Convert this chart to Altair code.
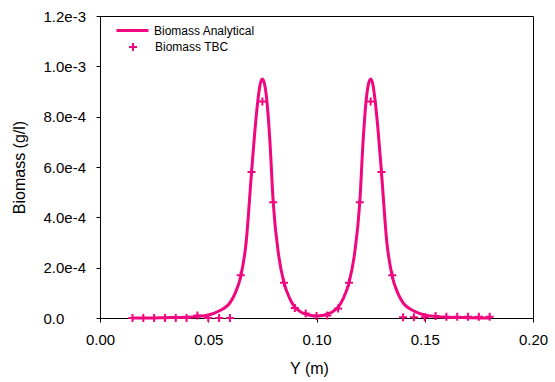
import altair as alt
import pandas as pd

MAGENTA = "#F0067F"
FONT = "Liberation Sans"

# Analytical curve (Y in m, biomass in 1e-4 g/l)
curve_y = [0.015, 0.02, 0.025, 0.03, 0.035, 0.04, 0.045, 0.05, 0.055, 0.06,
           0.0625, 0.065, 0.0675, 0.07, 0.0715, 0.073, 0.074, 0.075, 0.076, 0.077,
           0.0785, 0.08, 0.0825, 0.085, 0.0875, 0.09, 0.0925, 0.095, 0.0975, 0.1,
           0.1025, 0.105, 0.1075, 0.11, 0.1125, 0.115, 0.1175, 0.12, 0.1215, 0.123,
           0.124, 0.125, 0.126, 0.127, 0.1285, 0.13, 0.1325, 0.135, 0.1375, 0.14,
           0.145, 0.15, 0.155, 0.16, 0.165, 0.17, 0.175, 0.18]
curve_b = [0.0, 0.0, 0.0, 0.01, 0.02, 0.03, 0.06, 0.12, 0.28, 0.6,
           1.0, 1.65, 3.0, 5.8, 7.4, 8.7, 9.3, 9.5, 9.3, 8.7,
           7.0, 4.6, 2.5, 1.4, 0.8, 0.43, 0.25, 0.16, 0.1, 0.08,
           0.1, 0.16, 0.25, 0.43, 0.8, 1.4, 2.5, 4.6, 7.0, 8.7,
           9.3, 9.5, 9.3, 8.7, 7.4, 5.8, 3.0, 1.65, 1.0, 0.6,
           0.28, 0.12, 0.06, 0.03, 0.02, 0.01, 0.0, 0.0]

# TBC points
tbc_y = [0.015, 0.02, 0.025, 0.03, 0.035, 0.04, 0.045, 0.05, 0.055, 0.06,
         0.065, 0.07, 0.075, 0.08, 0.085, 0.09, 0.095, 0.1, 0.105, 0.11,
         0.115, 0.12, 0.125, 0.13, 0.135, 0.14, 0.145, 0.15, 0.155, 0.16,
         0.165, 0.17, 0.175, 0.18]
tbc_b = [0.0, 0.0, 0.0, 0.0, 0.0, 0.0, 0.1, 0.0, 0.0, 0.0,
         1.7, 5.8, 8.6, 4.6, 1.4, 0.4, 0.18, 0.08, 0.1, 0.38,
         1.4, 4.6, 8.6, 5.8, 1.7, 0.03, 0.03, 0.03, 0.08, 0.05,
         0.05, 0.05, 0.05, 0.05]

y_ticks = [0, 0.0002, 0.0004, 0.0006, 0.0008, 0.001, 0.0012]
x_ticks = [0.0, 0.05, 0.10, 0.15, 0.20]

curve_df = pd.DataFrame({"Y": curve_y, "B": [v * 1e-4 for v in curve_b],
                         "s": "Biomass Analytical"})
tbc_df = pd.DataFrame({"Y": tbc_y, "B": [v * 1e-4 for v in tbc_b],
                       "t": "Biomass TBC"})

label_expr = ("datum.value == 0 ? '0.0' : format(datum.value / pow(10, floor(log(datum.value)/LN10 + 1e-9)), '.1f')"
              " + 'e' + floor(log(datum.value)/LN10 + 1e-9)")

x_enc = alt.X("Y:Q", scale=alt.Scale(domain=[0, 0.2], nice=False),
              axis=alt.Axis(title="Y (m)", values=x_ticks, format=".2f",
                            labelPadding=10, labelFlush=False, titleX=209, titleY=50,
                            titleBaseline="middle"))
y_enc = alt.Y("B:Q", scale=alt.Scale(domain=[0, 0.0012], nice=False),
              axis=alt.Axis(title="Biomass (g/l)", values=y_ticks,
                            labelExpr=label_expr, labelAlign="left", labelFlush=False,
                            labelPadding=53, titleX=-81, titleY=151,
                            titleBaseline="middle"))

cross = "M-1,0H1M0,-1V1"

line = alt.Chart(curve_df).mark_line(strokeWidth=3, interpolate="monotone").encode(
    x=x_enc, y=y_enc,
    color=alt.Color("s:N", scale=alt.Scale(domain=["Biomass Analytical"], range=[MAGENTA]),
                    legend=alt.Legend(orient="none", legendX=15, legendY=-3, title=None,
                                      symbolType="stroke", symbolSize=1024,
                                      symbolStrokeWidth=3, labelOffset=4,
                                      labelFont=FONT, labelFontSize=12, padding=0)),
)

pts = alt.Chart(tbc_df).mark_point(filled=False, strokeWidth=2, size=64,
                                   color=MAGENTA, opacity=1).encode(
    x="Y:Q", y="B:Q",
    shape=alt.Shape("t:N", scale=alt.Scale(domain=["Biomass TBC"], range=[cross]),
                    legend=alt.Legend(orient="none", legendX=27, legendY=25, title=None,
                                      symbolStrokeColor=MAGENTA, symbolFillColor="transparent",
                                      symbolSize=64, symbolStrokeWidth=2, symbolOpacity=1,
                                      labelOffset=16, labelFont=FONT, labelFontSize=12,
                                      padding=0)),
)

chart = alt.layer(line, pts).properties(
    width=433, height=302,
    autosize=alt.AutoSizeParams(type="none"),
    padding={"left": 100, "top": 16, "right": 22, "bottom": 64},
    background="white",
).configure_view(stroke="black", strokeWidth=1).configure_axis(
    grid=False, domainColor="black", tickColor="black", tickSize=4,
    labelColor="black", titleColor="black", labelFont=FONT, titleFont=FONT,
    labelFontSize=15, titleFontSize=16, titleFontWeight="normal",
)

chart.save("out.html", embed_options={"renderer": "svg", "actions": False})
